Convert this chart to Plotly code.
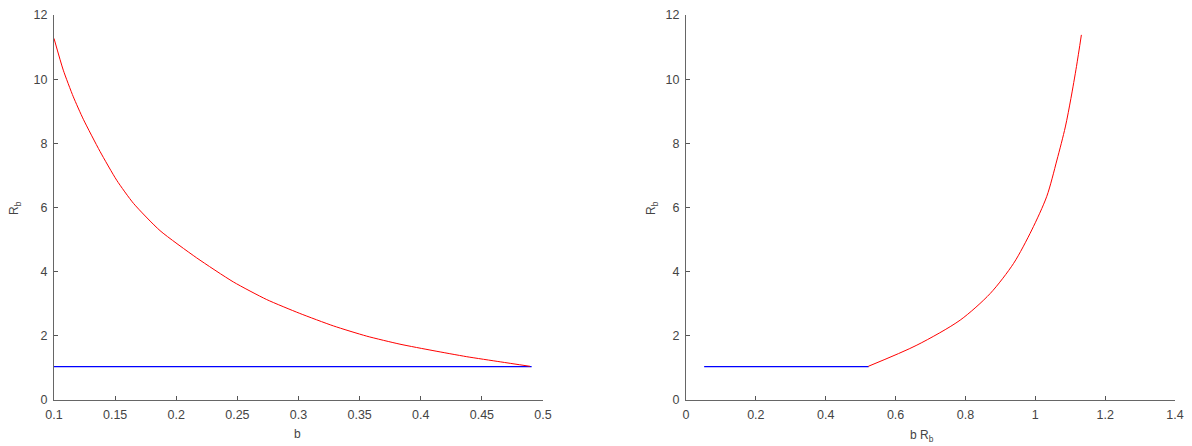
import plotly.graph_objects as go

# Left panel: R_b versus b
b_red = [0.1, 0.1076, 0.1158, 0.124, 0.1376, 0.1513, 0.165, 0.1867, 0.2167, 0.2467,
         0.274, 0.301, 0.3285, 0.3558, 0.383, 0.410, 0.4376, 0.465, 0.4894]
R_red = [11.27, 10.28, 9.45, 8.75, 7.75, 6.85, 6.13, 5.28, 4.43, 3.68,
         3.13, 2.70, 2.31, 1.99, 1.74, 1.54, 1.35, 1.19, 1.05]
b_blue = [0.1, 0.4907]
R_blue_left = [1.04, 1.04]

# Right panel: R_b versus b*R_b
bR_red = [0.522, 0.661, 0.785, 0.871, 0.938, 0.990, 1.033, 1.062, 1.086, 1.102, 1.118, 1.132]
R_red2 = [1.05, 1.71, 2.49, 3.32, 4.26, 5.30, 6.35, 7.48, 8.51, 9.40, 10.4, 11.38]
bR_blue = [0.052, 0.523]
R_blue_right = [1.04, 1.04]

left_xticks = [0.1, 0.15, 0.2, 0.25, 0.3, 0.35, 0.4, 0.45, 0.5]
left_xlabels = ["0.1", "0.15", "0.2", "0.25", "0.3", "0.35", "0.4", "0.45", "0.5"]
right_xticks = [0, 0.2, 0.4, 0.6, 0.8, 1.0, 1.2, 1.4]
right_xlabels = ["0", "0.2", "0.4", "0.6", "0.8", "1", "1.2", "1.4"]
yticks = [0, 2, 4, 6, 8, 10, 12]

fig = go.Figure()
fig.add_trace(go.Scatter(x=b_blue, y=R_blue_left, mode="lines",
                         line=dict(color="#0000ff", width=1.2), xaxis="x", yaxis="y"))
fig.add_trace(go.Scatter(x=b_red, y=R_red, mode="lines",
                         line=dict(color="#ff0000", width=1, shape="spline", smoothing=0.6),
                         xaxis="x", yaxis="y"))
fig.add_trace(go.Scatter(x=bR_blue, y=R_blue_right, mode="lines",
                         line=dict(color="#0000ff", width=1.2), xaxis="x2", yaxis="y2"))
fig.add_trace(go.Scatter(x=bR_red, y=R_red2, mode="lines",
                         line=dict(color="#ff0000", width=1, shape="spline", smoothing=0.8),
                         xaxis="x2", yaxis="y2"))

W, H = 1192, 446
tickfont = dict(family="Liberation Sans, Arial, sans-serif", size=12.5, color="#444444")
axis_common = dict(showgrid=False, zeroline=False, showline=True, linecolor="#666666",
                   linewidth=1, ticks="inside", ticklen=4, tickcolor="#555555",
                   tickfont=tickfont, mirror=False, automargin=False, ticklabelstandoff=3)

ydom = [(H - 400) / H, (H - 15) / H]
fig.update_layout(
    width=W, height=H,
    margin=dict(l=0, r=0, t=0, b=0, autoexpand=False),
    paper_bgcolor="white", plot_bgcolor="white",
    showlegend=False,
    xaxis=dict(domain=[54 / W, 543 / W], range=[0.1, 0.5], tickvals=left_xticks,
               ticktext=left_xlabels, anchor="y", **axis_common),
    yaxis=dict(domain=ydom, range=[0, 12], tickvals=yticks, anchor="x", **axis_common),
    xaxis2=dict(domain=[686 / W, 1175 / W], range=[0, 1.4], tickvals=right_xticks,
                ticktext=right_xlabels, anchor="y2", **axis_common),
    yaxis2=dict(domain=ydom, range=[0, 12], tickvals=yticks, anchor="x2", **axis_common),
)

font = dict(family="Liberation Sans, Arial, sans-serif", size=12, color="#444444")
fig.add_annotation(text="b", x=297 / W, y=(H - 434) / H, xref="paper", yref="paper",
                   showarrow=False, font=font, xanchor="center", yanchor="middle")
fig.add_annotation(text="b R<sub>b</sub>", x=922 / W, y=(H - 436) / H, xref="paper", yref="paper",
                   showarrow=False, font=font, xanchor="center", yanchor="middle")
fig.add_annotation(text="R<sub>b</sub>", x=15 / W, y=(H - 208) / H, xref="paper", yref="paper",
                   showarrow=False, font=font, textangle=-90, xanchor="center", yanchor="middle")
fig.add_annotation(text="R<sub>b</sub>", x=652 / W, y=(H - 208) / H, xref="paper", yref="paper",
                   showarrow=False, font=font, textangle=-90, xanchor="center", yanchor="middle")

fig.write_html("out.html")
